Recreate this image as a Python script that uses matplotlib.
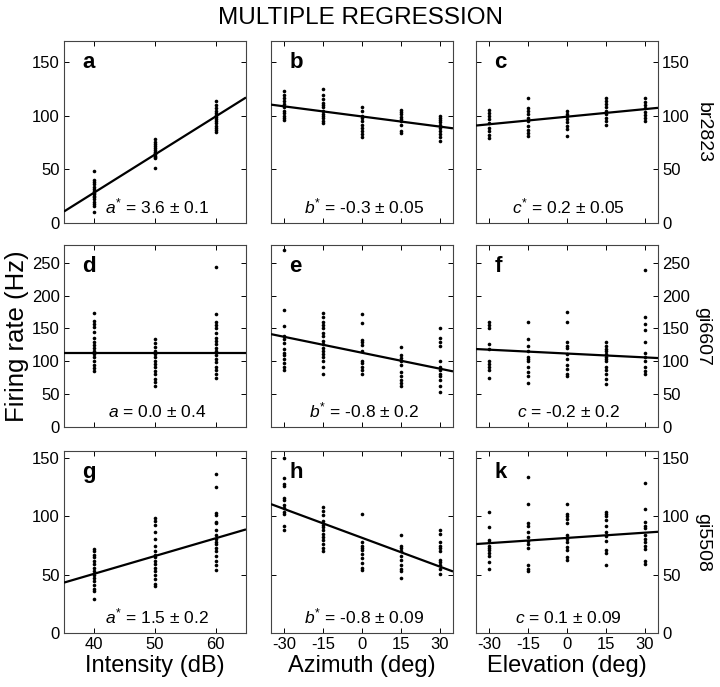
import matplotlib
matplotlib.use("Agg")
import matplotlib.pyplot as plt

plt.rcParams['font.family'] = ['Liberation Sans', 'DejaVu Sans']
plt.rcParams['mathtext.fontset'] = 'custom'
plt.rcParams['mathtext.rm'] = 'Liberation Sans'
plt.rcParams['mathtext.it'] = 'Liberation Sans:italic'
plt.rcParams['axes.unicode_minus'] = False

# ---------------- data ----------------
title = "MULTIPLE REGRESSION"
intensity_levels = [40, 50, 60]
angle_levels = [-30, -15, 0, 15, 30]
xlabels = ["Intensity (dB)", "Azimuth (deg)", "Elevation (deg)"]
cell_names = ["br2823", "gi6607", "gi5508"]
panel_letters = ["a", "b", "c", "d", "e", "f", "g", "h", "k"]
coef_texts = [r"$a^{*}$ = 3.6 $\pm$ 0.1", r"$b^{*}$ = -0.3 $\pm$ 0.05", r"$c^{*}$ = 0.2 $\pm$ 0.05",
              r"$a$ = 0.0 $\pm$ 0.4", r"$b^{*}$ = -0.8 $\pm$ 0.2", r"$c$ = -0.2 $\pm$ 0.2",
              r"$a^{*}$ = 1.5 $\pm$ 0.2", r"$b^{*}$ = -0.8 $\pm$ 0.09", r"$c$ = 0.1 $\pm$ 0.09"]

# firing rates (Hz) per stimulus level, per panel
rates_a = [[49, 40, 38, 36, 34, 32, 30, 28, 27, 25, 24, 22, 20, 18, 16, 10],
           [78, 76, 74, 72, 70, 68, 66, 65, 64, 63, 62, 61, 51],
           [114, 110, 107, 105, 103, 101, 99, 97, 95, 93, 91, 89, 87, 85]]
rates_b = [[123, 120, 117, 114, 111, 108, 105, 103, 100, 98, 96],
           [125, 120, 116, 112, 110, 108, 105, 102, 100, 98, 95, 93],
           [108, 105, 100, 98, 95, 92, 89, 86, 83, 80],
           [106, 104, 102, 99, 97, 95, 92, 86, 84],
           [100, 98, 96, 94, 92, 89, 86, 83, 80, 77]]
rates_c = [[106, 103, 100, 97, 93, 89, 86, 82, 79],
           [117, 107, 105, 102, 98, 95, 91, 87, 84, 81],
           [105, 102, 100, 97, 94, 91, 88, 81],
           [117, 114, 111, 108, 105, 102, 98, 95, 92],
           [117, 113, 110, 107, 104, 101, 98, 95]]
rates_d = [[174, 162, 157, 152, 145, 135, 130, 125, 120, 116, 111, 106, 101, 95, 90, 85],
           [134, 128, 121, 116, 111, 106, 101, 96, 91, 85, 80, 73, 68, 63],
           [244, 172, 160, 156, 151, 143, 136, 131, 126, 120, 115, 110, 104, 99, 92, 87, 80, 75]]
rates_e = [[270, 178, 153, 139, 134, 128, 118, 113, 109, 104, 97, 92, 87],
           [173, 167, 160, 155, 150, 143, 138, 131, 126, 120, 116, 111, 106, 100, 92, 81],
           [172, 158, 133, 130, 125, 115, 101, 97, 92, 87, 81],
           [121, 109, 105, 101, 95, 84, 77, 72, 67, 63],
           [151, 135, 130, 123, 101, 92, 87, 81, 77, 72, 63, 53]]
rates_f = [[160, 155, 150, 126, 118, 100, 96, 91, 86, 74],
           [160, 134, 124, 116, 107, 104, 100, 91, 84, 77, 67],
           [175, 160, 129, 124, 120, 111, 104, 94, 89, 80, 77],
           [129, 124, 119, 115, 111, 107, 104, 100, 92, 86, 80, 73, 65],
           [239, 167, 157, 148, 129, 113, 106, 101, 91, 85, 81]]
rates_g = [[72, 70, 67, 65, 62, 59, 56, 53, 50, 47, 45, 41, 38, 36, 29],
           [99, 96, 93, 87, 81, 75, 70, 67, 65, 62, 59, 56, 53, 50, 46, 42, 40],
           [136, 125, 103, 101, 95, 94, 88, 84, 81, 78, 76, 73, 70, 66, 62, 58, 54]]
rates_h = [[150, 133, 128, 126, 116, 114, 110, 107, 104, 102, 92, 88],
           [108, 105, 101, 96, 93, 91, 88, 85, 82, 80, 76, 73, 70],
           [102, 78, 75, 73, 71, 68, 64, 60, 56, 54],
           [84, 75, 73, 70, 66, 63, 58, 55, 53, 47],
           [88, 85, 78, 75, 73, 70, 63, 61, 58, 55, 51]]
rates_k = [[104, 91, 80, 78, 75, 73, 71, 69, 66, 61, 55],
           [134, 111, 94, 92, 87, 82, 79, 76, 73, 58, 55, 53],
           [111, 102, 100, 98, 94, 84, 81, 78, 74, 71, 65, 63],
           [104, 102, 100, 97, 92, 87, 83, 79, 71, 69, 58],
           [129, 106, 95, 92, 90, 84, 81, 78, 75, 72, 62, 59]]

# regression lines: value at the central level and slope (Hz per unit)
line_center = [64.0, 99.5, 99.3, 112.6, 113.0, 111.8, 66.0, 81.6, 81.5]
line_slope = [3.55, -0.316, 0.236, 0.0, -0.81, -0.196, 1.52, -0.825, 0.15]

row_ymax = [170, 277, 156]
row_yticks = [[0, 50, 100, 150], [0, 50, 100, 150, 200, 250], [0, 50, 100, 150]]

# ---------------- figure ----------------
W, H = 720, 687
fig = plt.figure(figsize=(W / 100, H / 100), dpi=100)

col_left = [64, 271, 476]
row_top = [41, 245, 451]
ax_w, ax_h = 182, 182

all_rates = [rates_a, rates_b, rates_c, rates_d, rates_e, rates_f, rates_g, rates_h, rates_k]

fig.text(360 / W, 1 - 18.5 / H, title, ha='center', va='center', fontsize=17.5)

for r in range(3):
    for c in range(3):
        i = r * 3 + c
        ax = fig.add_axes([col_left[c] / W, 1 - (row_top[r] + ax_h) / H, ax_w / W, ax_h / H])
        levels = intensity_levels if c == 0 else angle_levels
        xlim = (35, 65) if c == 0 else (-35, 35)
        xmid = 50 if c == 0 else 0
        for lev, vals in zip(levels, all_rates[i]):
            ax.plot([lev] * len(vals), vals, 'o', color='black', markersize=2.6,
                    markeredgewidth=0, zorder=3)
        ys = [line_center[i] + line_slope[i] * (x - xmid) for x in xlim]
        ax.plot(xlim, ys, color='black', lw=1.6, zorder=4, solid_capstyle='butt')
        ax.set_xlim(*xlim)
        ax.set_ylim(0, row_ymax[r])
        ax.set_xticks(levels)
        ax.set_yticks(row_yticks[r])
        ax.tick_params(direction='in', length=3.5, width=0.7, top=True, right=True,
                       labelsize=12, pad=3, colors='black')
        for s in ax.spines.values():
            s.set_linewidth(0.8)
            s.set_color('#444444')
        if r < 2:
            ax.tick_params(labelbottom=False)
        else:
            ax.set_xlabel(xlabels[c], fontsize=17, labelpad=2)
        if c == 0:
            ax.tick_params(labelleft=True, labelright=False)
        elif c == 1:
            ax.tick_params(labelleft=False, labelright=False)
        else:
            ax.tick_params(labelleft=False, labelright=True)
        if i == 3:
            ax.set_ylabel("Firing rate (Hz)", fontsize=18.5, labelpad=2)
        ax.text(0.1, 0.85, panel_letters[i], transform=ax.transAxes, fontsize=16,
                fontweight='bold', ha='left', va='baseline')
        ax.text(0.51, 0.055, coef_texts[i], transform=ax.transAxes, fontsize=12.5,
                ha='center', va='baseline')
    # cell name on the right of each row
    fig.text(703 / W, 1 - (row_top[r] + ax_h / 2) / H, cell_names[r], rotation=270,
             ha='center', va='center', fontsize=14)

fig.savefig("out.png", dpi=100)
